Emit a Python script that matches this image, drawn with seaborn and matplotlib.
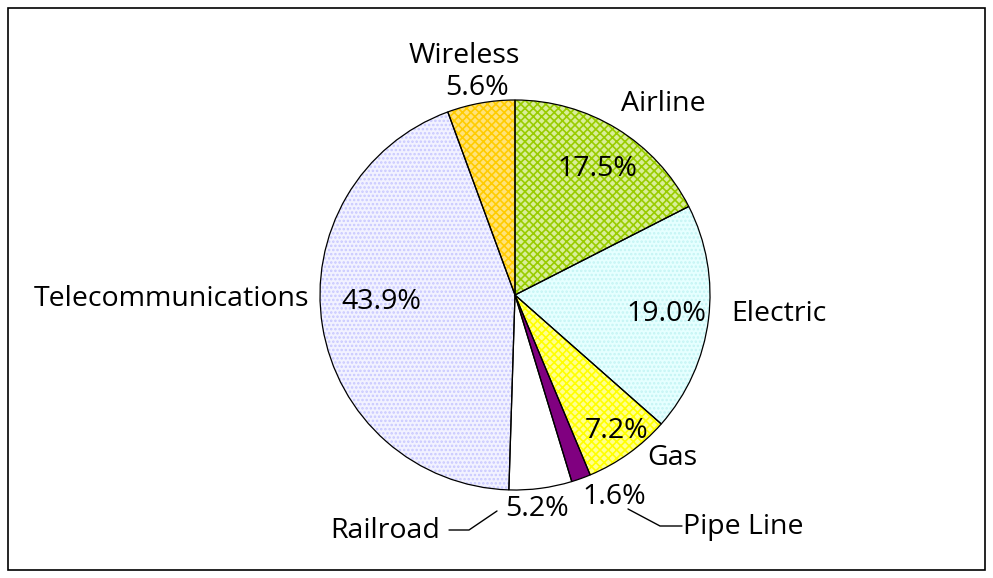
#!/usr/bin/env python3
"""share of segments - pie chart"""

import matplotlib
matplotlib.use("Agg")
import matplotlib.pyplot as plt
import seaborn as sns

# data
segments = ["Airline", "Electric", "Gas", "Pipe Line", "Railroad",
            "Telecommunications", "Wireless"]
shares = [17.5, 19.0, 7.2, 1.6, 5.2, 43.9, 5.6]

# styling
base_colors = ["#d9ee99", "#e6ffff", "#ffff90", "#800080", "#ffffff",
               "#f2f2ff", "#ffe27a"]
hatch_colors = ["#99cc00", "#c4f4f4", "#ffff00", "#800080", "#ffffff",
                "#c8c8ff", "#ffcc00"]
hatches = ["xxxx", "....", "xxxx", None, None, "....", "xxxx"]

sns.set_theme(style="white")
plt.rcParams["font.family"] = ["Open Sans", "DejaVu Sans"]
plt.rcParams["hatch.linewidth"] = 1.2
plt.rcParams["text.color"] = "black"

W, H = 993, 578
fig = plt.figure(figsize=(W / 100, H / 100), dpi=100)
ax = fig.add_axes([0, 0, 1, 1])

def py(y):
    # pixel row -> data y (text sits a touch low in the original)
    return H - y

centre = (515, py(295))
radius = 195

# fill layer with patterns
wedges, _ = ax.pie(shares, center=centre, radius=radius, startangle=90,
                   counterclock=False, colors=base_colors,
                   wedgeprops=dict(linewidth=0), frame=True)
for w, hc, ht in zip(wedges, hatch_colors, hatches):
    w.set_edgecolor(hc)
    if ht:
        w.set_hatch(ht)

# outline layer
ax.pie(shares, center=centre, radius=radius, startangle=90,
       counterclock=False, colors=["none"] * len(shares),
       wedgeprops=dict(linewidth=0.9, edgecolor="black"), frame=True)
ax.set_xlim(0, W)
ax.set_ylim(0, H)
ax.set_aspect("equal")
ax.axis("off")

fs = 20.5
dy = 3
pct_pos = {"Airline": (597, 166), "Electric": (666, 311), "Gas": (617, 428),
           "Pipe Line": (614, 494), "Railroad": (537, 506),
           "Telecommunications": (381, 299), "Wireless": (477, 85)}
name_pos = {"Airline": (663, 101), "Electric": (779, 311), "Gas": (672, 455),
            "Pipe Line": (743, 524), "Railroad": (385, 528),
            "Telecommunications": (172, 296), "Wireless": (464, 53)}

for seg, val in zip(segments, shares):
    x, y = pct_pos[seg]
    ax.text(x, py(y + dy), f"{val:.1f}%", ha="center", va="center",
            fontsize=fs)
    x, y = name_pos[seg]
    ax.text(x, py(y + dy), seg, ha="center", va="center", fontsize=fs)

# leader lines
ax.plot([449, 469, 497], [py(530), py(530), py(511)], color="black", lw=1)
ax.plot([628, 660, 682], [py(509), py(526), py(526)], color="black", lw=1)

# outer border
fig.patches.append(plt.Rectangle((8 / W, 8 / H), 977 / W, 562 / H,
                                 transform=fig.transFigure, fill=False,
                                 edgecolor="black", linewidth=1.2))

fig.savefig("out.png", dpi=100)
